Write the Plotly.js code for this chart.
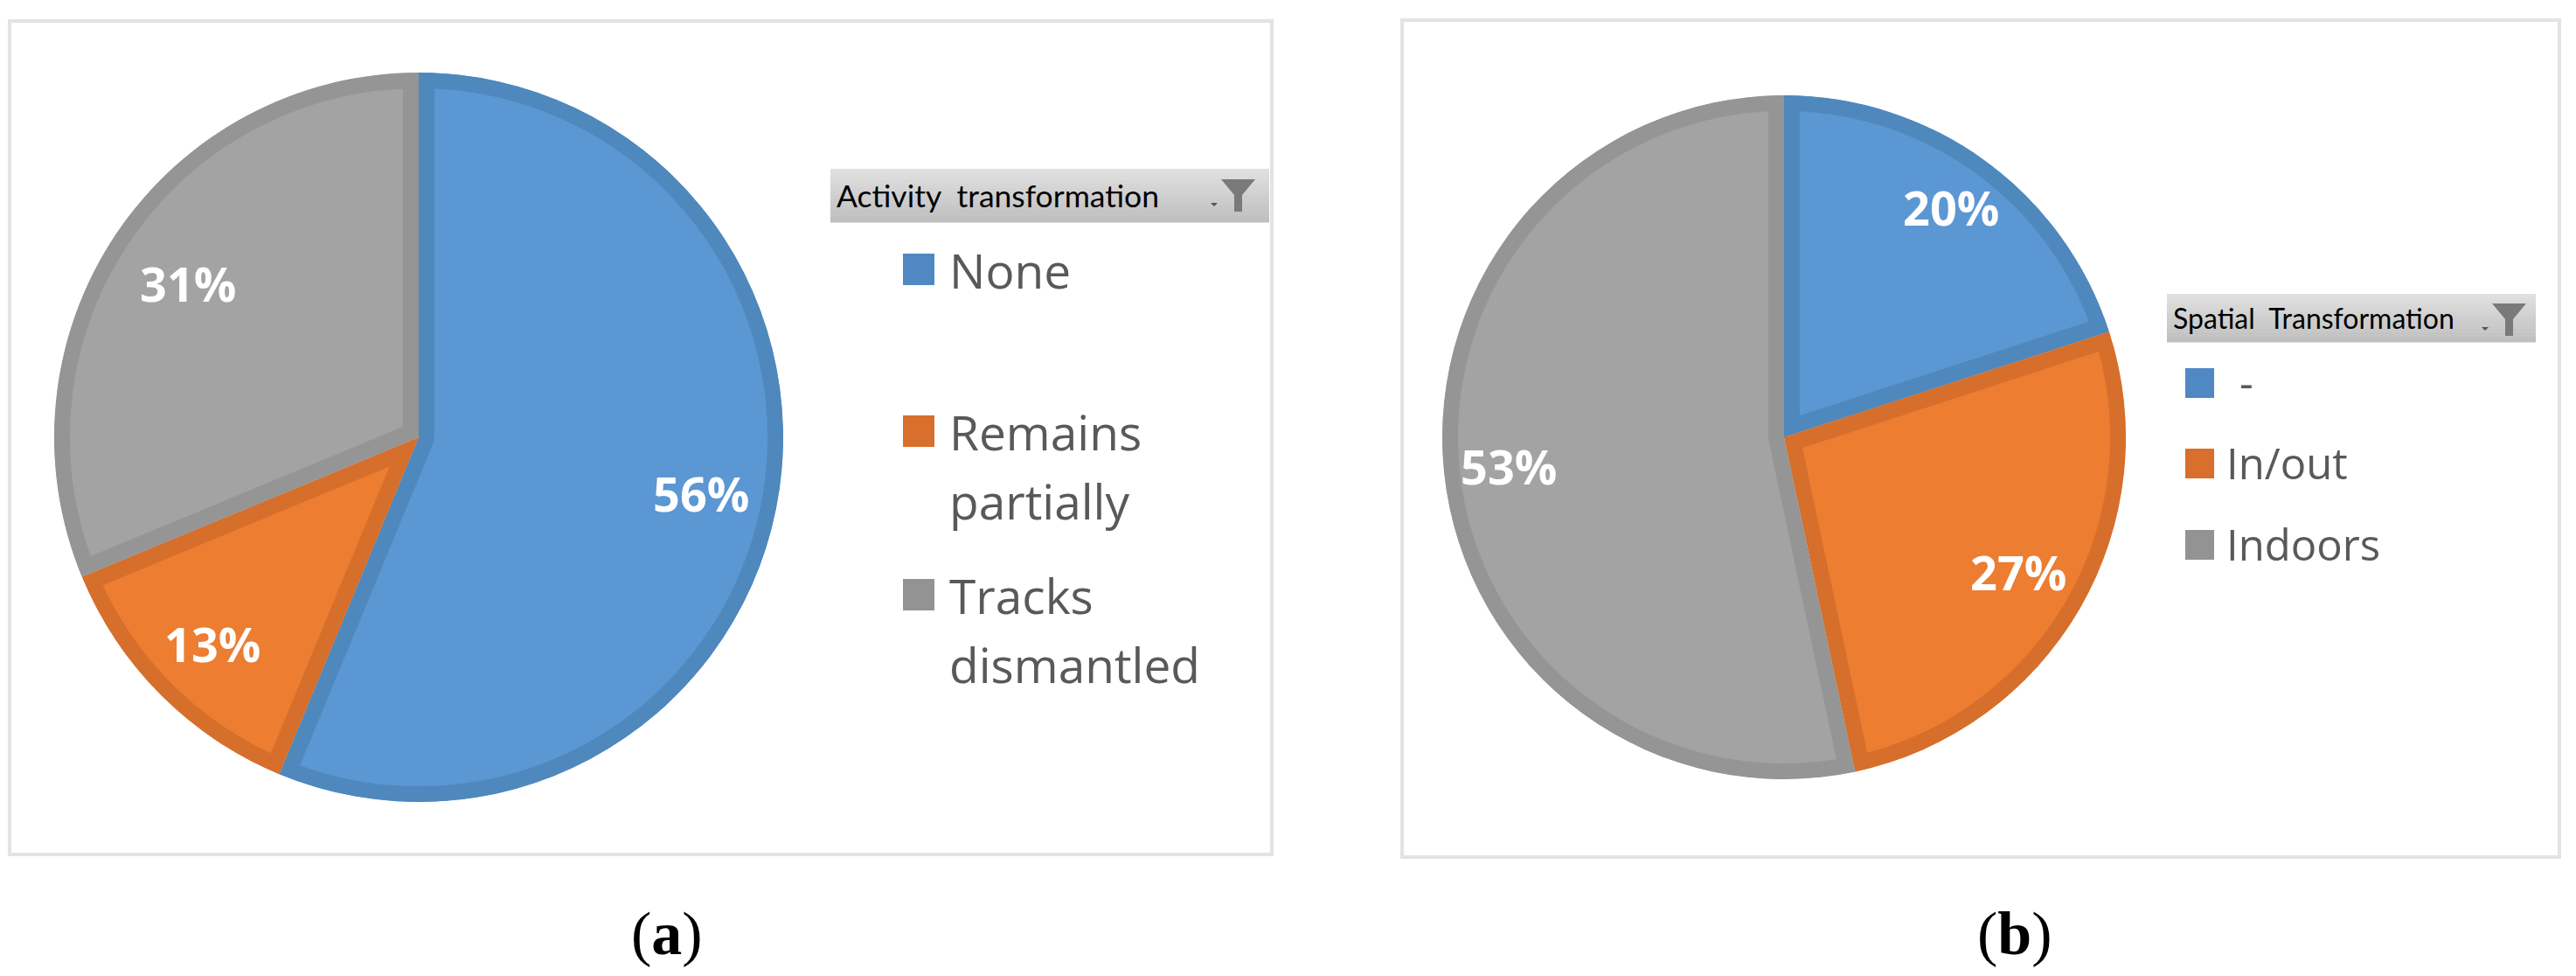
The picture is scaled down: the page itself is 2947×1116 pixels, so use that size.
<!DOCTYPE html>
<html>
<head>
<meta charset="utf-8">
<script src="https://cdn.plot.ly/plotly-3.0.1.min.js"></script>
<style>
  html, body { margin: 0; padding: 0; background: #fff; }
</style>
</head>
<body>
<div id="plot" style="width:2947px;height:1116px"></div>
<script>
// counts: the slice angles fit 9/16, 2/16, 5/16 and 3/15, 4/15, 8/15
const activityLabels = ['None', 'Remains<br>partially', 'Tracks<br>dismantled'];
const activityValues = [9, 2, 5];
const spatialLabels = ['-', 'In/out', 'Indoors'];
const spatialValues = [3, 4, 8];

const fillColors = ['#5b97d3', '#ed7d31', '#a3a3a3'];
const edgeColors = ['#4f88bd', '#d66f2b', '#959595'];
const keyColors = ['#4f88c2', '#d86f2c', '#939393'];

const W = 2947;
const H = 1116;
const px = x => x / W;
const py = y => 1 - y / H;

function pieTrace(labels, values, cx, cy, r) {
  return {
    type: 'pie',
    labels: labels,
    values: values,
    sort: false,
    direction: 'clockwise',
    rotation: 0,
    textinfo: 'none',
    hoverinfo: 'label+percent',
    domain: { x: [px(cx - r), px(cx + r)], y: [py(cy + r), py(cy - r)] },
    // twice the visible width, the outer half is clipped off below
    marker: { colors: fillColors, line: { color: edgeColors, width: 36 } }
  };
}

function rect(x0, y0, x1, y1, fill, line) {
  return {
    type: 'rect', xref: 'paper', yref: 'paper', layer: 'below',
    x0: px(x0), x1: px(x1), y0: py(y0), y1: py(y1),
    fillcolor: fill,
    line: line ? { color: line, width: 4 } : { width: 0 }
  };
}

function label(text, x, y, size, color, family, anchor) {
  return {
    text: text, xref: 'paper', yref: 'paper', x: px(x), y: py(y),
    xanchor: anchor || 'left', yanchor: 'middle', showarrow: false,
    font: { size: size, color: color, family: family }
  };
}

// percent labels sit on the middle angle of each slice, at a share of r per slice
function percentLabels(values, cx, cy, r, shares) {
  const total = values.reduce((a, b) => a + b, 0);
  let sum = 0;
  return values.map((v, i) => {
    const mid = (sum + v / 2) / total * 2 * Math.PI;
    sum += v;
    return label('<b>' + Math.round(v / total * 100) + '%</b>',
      cx + shares[i] * r * Math.sin(mid), cy - shares[i] * r * Math.cos(mid),
      54, '#ffffff', 'Open Sans, sans-serif', 'center');
    });
}

const shapes = [];
const annotations = [];

// chart frames
shapes.push(rect(11, 24, 1455, 977, '#ffffff', '#e3e3e3'));
shapes.push(rect(1604, 23, 2928, 980, '#ffffff', '#e3e3e3'));

function filterHeader(x0, y0, x1, y1, title, size, fx, fy) {
  // gradient bar as thin strips
  const strips = 14;
  for (let i = 0; i < strips; i++) {
    const grey = Math.round(224 - 33 * i / (strips - 1));
    const top = y0 + (y1 - y0) * i / strips;
    shapes.push(rect(x0, top, x1, top + (y1 - y0) / strips + 0.5, `rgb(${grey},${grey},${grey})`));
  }
  annotations.push(label(title, x0 + 5, (y0 + y1) / 2, size, '#000000', 'Lato, sans-serif'));
  const pts = [[fx, fy], [fx + 39, fy], [fx + 24, fy + 18], [fx + 24, fy + 37], [fx + 15, fy + 37], [fx + 15, fy + 18]];
  shapes.push({
    type: 'path', xref: 'paper', yref: 'paper', fillcolor: '#7a7a7a', line: { width: 0 },
    path: 'M' + pts.map(p => px(p[0]) + ',' + py(p[1])).join('L') + 'Z'
  });
  const dot = [[fx - 12, fy + 27], [fx - 4, fy + 27], [fx - 8, fy + 31]];
  shapes.push({
    type: 'path', xref: 'paper', yref: 'paper', fillcolor: '#555555', line: { width: 0 },
    path: 'M' + dot.map(p => px(p[0]) + ',' + py(p[1])).join('L') + 'Z'
  });
}

filterHeader(950, 193, 1452, 254, 'Activity  transformation', 35.5, 1397, 205);
filterHeader(2479, 336, 2901, 391, 'Spatial  Transformation', 32, 2851, 347);

// keys of chart a
[308, 493, 680].forEach((y, i) => {
  shapes.push(rect(1033, y - 18, 1069, y + 18, keyColors[i]));
  activityLabels[i].split('<br>').forEach((line, j) => {
    annotations.push(label(line, 1084, y + j * 79, 55, '#595959', 'Open Sans, sans-serif'));
  });
});

// keys of chart b
[438, 530, 623].forEach((y, i) => {
  shapes.push(rect(2500, y - 17, 2533, y + 17, keyColors[i]));
  annotations.push(label(spatialLabels[i], i === 0 ? 2560 : 2545, y - 1, 49, '#595959', 'Open Sans, sans-serif'));
});

annotations.push(...percentLabels(activityValues, 479, 500, 417, [0.79, 0.8, 0.76]));
annotations.push(...percentLabels(spatialValues, 2041, 500, 391, [0.83, 0.79, 0.81]));

annotations.push(label('(<b>a</b>)', 763, 1067, 70, '#000000', 'Liberation Serif, serif', 'center'));
annotations.push(label('(<b>b</b>)', 2305, 1067, 70, '#000000', 'Liberation Serif, serif', 'center'));

const data = [
  pieTrace(activityLabels, activityValues, 479, 500, 417),
  pieTrace(spatialLabels, spatialValues, 2041, 500, 391)
];

const layout = {
  width: W,
  height: H,
  margin: { l: 0, r: 0, t: 0, b: 0 },
  paper_bgcolor: '#ffffff',
  showlegend: false,
  shapes: shapes,
  annotations: annotations
};

Plotly.newPlot('plot', data, layout, { displayModeBar: false }).then(gd => {
  // keep the slice borders inside their own slice
  const svg = gd.querySelector('.main-svg');
  const defs = svg.querySelector('defs');
  gd.querySelectorAll('.slice path.surface').forEach((path, i) => {
    const clip = document.createElementNS('http://www.w3.org/2000/svg', 'clipPath');
    clip.setAttribute('id', 'slice-clip-' + i);
    const copy = document.createElementNS('http://www.w3.org/2000/svg', 'path');
    copy.setAttribute('d', path.getAttribute('d'));
    clip.appendChild(copy);
    defs.appendChild(clip);
    path.setAttribute('clip-path', 'url(#slice-clip-' + i + ')');
  });
});
</script>
</body>
</html>
